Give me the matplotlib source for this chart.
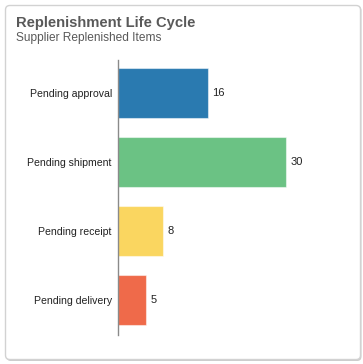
import matplotlib
matplotlib.use("Agg")
import matplotlib.pyplot as plt
from matplotlib.patches import FancyBboxPatch

categories = ["Pending approval", "Pending shipment", "Pending receipt", "Pending delivery"]
values = [16, 30, 8, 5]
colors = ["#2a7ab0", "#6bc284", "#fad660", "#ef6a4a"]
title = "Replenishment Life Cycle"
subtitle = "Supplier Replenished Items"

W, H = 363, 364
fig = plt.figure(figsize=(W / 100, H / 100), dpi=100)
fig.patch.set_facecolor("white")
plt.rcParams["font.family"] = ["Liberation Sans", "DejaVu Sans"]

# card with shadow
shadow = FancyBboxPatch((6.5 / W, 3.0 / H), 355 / W, 355 / H,
                        boxstyle="round,pad=0,rounding_size=0.012",
                        transform=fig.transFigure, facecolor="#cccccc",
                        edgecolor="none", zorder=0)
card = FancyBboxPatch((5.5 / W, 4.5 / H), 355 / W, 354 / H,
                      boxstyle="round,pad=0,rounding_size=0.012",
                      transform=fig.transFigure, facecolor="white",
                      edgecolor="#d2d2d2", linewidth=1.0, zorder=1)
fig.patches.extend([shadow, card])

fig.text(16 / W, 1 - 27 / H, title, fontsize=10.6, fontweight="bold",
         color="#595959", ha="left", va="baseline")
fig.text(16 / W, 1 - 41 / H, subtitle, fontsize=8.6,
         color="#595959", ha="left", va="baseline")

# axes in pixel coordinates
x0, x1 = 118, 340
y_top, y_bot = 60, 335
ax = fig.add_axes([x0 / W, 1 - y_bot / H, (x1 - x0) / W, (y_bot - y_top) / H])
ax.set_zorder(2)
ax.patch.set_alpha(0)

px_per_unit = 5.6
ax.set_xlim(0, (x1 - x0) / px_per_unit)
n = len(categories)
ax.set_ylim(3.506, -0.48)

ypos = list(range(n))
ax.barh(ypos, values, height=0.72, color=colors,
        edgecolor=(1, 1, 1, 0.5), linewidth=0.8)
for y, v in zip(ypos, values):
    ax.text(v + 0.75, y, str(v), va="center", ha="left", fontsize=8, color="#222222")

ax.set_yticks(ypos)
ax.set_yticklabels(categories, fontsize=7.6, color="#222222")
ax.tick_params(axis="y", length=0, pad=4.5)
ax.set_xticks([])
for s in ["top", "right", "bottom"]:
    ax.spines[s].set_visible(False)
ax.spines["left"].set_color("#8a8a8a")
ax.spines["left"].set_linewidth(1.0)

fig.savefig("out.png", dpi=100)
